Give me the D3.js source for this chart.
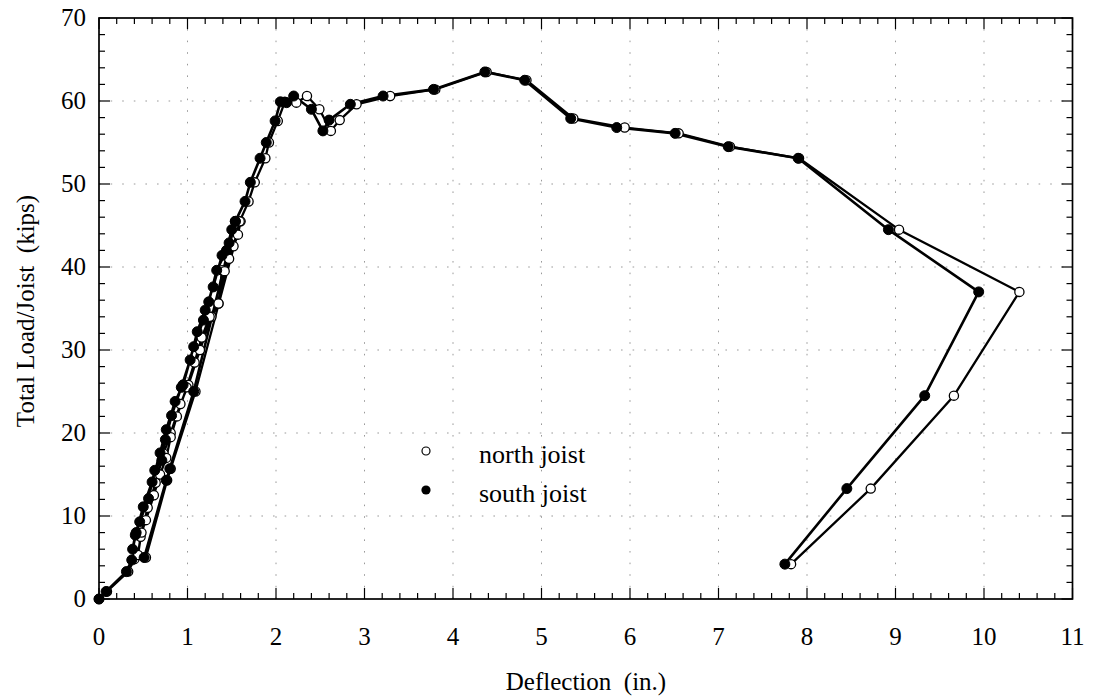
<!DOCTYPE html>
<html>
<head>
<meta charset="utf-8">
<script src="https://cdn.jsdelivr.net/npm/d3@7"></script>
<style>
  html, body { margin: 0; padding: 0; background: #fff; }
  svg { display: block; font-family: "Liberation Serif", "Times New Roman", serif; }
</style>
</head>
<body>
<svg id="chart" width="1094" height="700"></svg>
<script>
// ---- data (deflection in., total load/joist kips) ----
const northJoist = [
  [0,0],[0.09,0.9],[0.33,3.3],[0.40,4.8],[0.53,5.0],[0.77,14.3],[0.81,15.7],[1.09,25.0],[1.60,45.5],
  [1.57,43.9],[1.47,41.0],[1.39,39.6],[1.35,35.6],[1.27,34.0],[1.14,30.0],[1.01,25.8],[0.92,23.5],
  [0.81,20.0],[0.73,17.5],[0.64,14.0],[0.55,11.0],[0.47,7.5],[0.44,5.3],
  [0.48,8.0],[0.53,9.5],[0.62,12.5],[0.69,15.0],[0.76,17.0],[0.81,19.5],[0.88,22.0],[0.99,25.5],
  [1.08,28.5],[1.16,31.5],[1.25,34.0],[1.35,35.6],[1.42,39.5],[1.52,42.5],[1.59,45.5],
  [1.69,47.9],[1.76,50.2],[1.88,53.1],[1.92,55.0],[2.02,57.6],[2.10,59.9],[2.23,59.8],[2.35,60.6],
  [2.49,59.0],[2.62,56.4],[2.72,57.7],[2.91,59.6],[3.29,60.6],[3.80,61.4],[4.38,63.5],[4.83,62.5],
  [5.36,57.9],[5.94,56.8],[6.55,56.1],[7.13,54.5],[7.91,53.1],[9.04,44.5],[10.40,37.0],
  [9.66,24.5],[8.72,13.3],[7.82,4.2]
];
const southJoist = [
  [0,0],[0.08,0.9],[0.31,3.3],[0.37,4.7],[0.51,5.0],[0.76,14.3],[0.80,15.7],[1.07,25.0],[1.54,45.5],
  [1.50,44.5],[1.44,42.0],[1.33,39.6],[1.24,35.8],[1.18,33.6],[1.07,30.4],[0.95,25.8],[0.86,23.8],
  [0.76,20.4],[0.69,17.6],[0.60,14.1],[0.50,11.1],[0.41,7.7],[0.38,6.0],
  [0.42,8.0],[0.46,9.3],[0.56,12.1],[0.63,15.5],[0.71,16.7],[0.75,19.2],[0.82,22.1],[0.93,25.5],
  [1.03,28.8],[1.11,32.2],[1.20,34.8],[1.29,37.6],[1.39,41.4],[1.47,42.9],[1.54,45.5],
  [1.65,47.9],[1.71,50.2],[1.82,53.1],[1.89,55.0],[1.99,57.6],[2.05,59.9],[2.12,59.8],[2.20,60.6],
  [2.40,59.0],[2.53,56.4],[2.60,57.7],[2.84,59.6],[3.21,60.6],[3.78,61.4],[4.36,63.5],[4.81,62.5],
  [5.33,57.9],[5.85,56.8],[6.51,56.1],[7.11,54.5],[7.90,53.1],[8.92,44.5],[9.94,37.0],
  [9.33,24.5],[8.45,13.3],[7.75,4.2]
];
const xTickValues = [0,1,2,3,4,5,6,7,8,9,10,11];
const yTickValues = [0,10,20,30,40,50,60,70];
const seriesNames = ["north joist", "south joist"];
const xTitle = "Deflection  (in.)";
const yTitle = "Total Load/Joist  (kips)";

// ---- layout ----
const svg = d3.select("#chart");
const L = 99, R = 1072.5, T = 18, B = 599;
const x = d3.scaleLinear().domain([0, 11]).range([L, R]);
const y = d3.scaleLinear().domain([0, 70]).range([B, T]);

// grid (dotted)
const grid = svg.append("g").attr("stroke", "#9a9a9a").attr("stroke-width", 1).attr("stroke-dasharray", "1.6,10");
grid.selectAll("line.gx").data(xTickValues.slice(1, -1)).enter().append("line")
  .attr("x1", d => x(d)).attr("x2", d => x(d)).attr("y1", B).attr("y2", T);
grid.selectAll("line.gy").data(yTickValues.slice(1, -1)).enter().append("line")
  .attr("y1", d => y(d)).attr("y2", d => y(d)).attr("x1", L).attr("x2", R);

// ticks (inward, all four sides)
const xMinor = d3.range(0, 11.001, 0.2).map(v => +v.toFixed(1));
const yMinor = d3.range(0, 70.001, 2);
const tickG = svg.append("g").attr("stroke", "#000").attr("stroke-width", 1.2);
const isMajX = v => Math.abs(v - Math.round(v)) < 1e-6;
const isMajY = v => v % 10 === 0;
xMinor.forEach(v => {
  const len = isMajX(v) ? 11 : 6;
  tickG.append("line").attr("x1", x(v)).attr("x2", x(v)).attr("y1", B).attr("y2", B - len);
  tickG.append("line").attr("x1", x(v)).attr("x2", x(v)).attr("y1", T).attr("y2", T + len);
});
yMinor.forEach(v => {
  const len = isMajY(v) ? 11 : 6;
  tickG.append("line").attr("y1", y(v)).attr("y2", y(v)).attr("x1", L).attr("x2", L + len);
  tickG.append("line").attr("y1", y(v)).attr("y2", y(v)).attr("x1", R).attr("x2", R - len);
});

// frame
svg.append("rect").attr("x", L).attr("y", T).attr("width", R - L).attr("height", B - T)
  .attr("fill", "none").attr("stroke", "#000").attr("stroke-width", 1.7);

// tick labels
svg.append("g").selectAll("text").data(xTickValues).enter().append("text")
  .attr("x", d => x(d)).attr("y", 645).attr("text-anchor", "middle")
  .attr("font-size", 25).attr("fill", "#000").text(d => d);
svg.append("g").selectAll("text").data(yTickValues).enter().append("text")
  .attr("x", 86).attr("y", d => y(d) + 8).attr("text-anchor", "end")
  .attr("font-size", 25).attr("fill", "#000").text(d => d);

// axis titles
svg.append("text").attr("x", 586).attr("y", 690).attr("text-anchor", "middle")
  .attr("font-size", 25).attr("fill", "#000").style("white-space", "pre").text(xTitle);
svg.append("text").attr("transform", "translate(34,311) rotate(-90)").attr("text-anchor", "middle")
  .attr("font-size", 25).attr("fill", "#000").style("white-space", "pre").text(yTitle);

// lines
const line = d3.line().x(d => x(d[0])).y(d => y(d[1]));
const plot = svg.append("g");
plot.append("path").datum(northJoist).attr("d", line)
  .attr("fill", "none").attr("stroke", "#000").attr("stroke-width", 2.3).attr("stroke-linejoin", "round");
plot.append("path").datum(southJoist).attr("d", line)
  .attr("fill", "none").attr("stroke", "#000").attr("stroke-width", 2.6).attr("stroke-linejoin", "round");

// markers
plot.append("g").selectAll("circle").data(northJoist).enter().append("circle")
  .attr("cx", d => x(d[0])).attr("cy", d => y(d[1])).attr("r", 4.6)
  .attr("fill", "#fff").attr("stroke", "#000").attr("stroke-width", 1.3);
plot.append("g").selectAll("circle").data(southJoist).enter().append("circle")
  .attr("cx", d => x(d[0])).attr("cy", d => y(d[1])).attr("r", 5)
  .attr("fill", "#000").attr("stroke", "#000").attr("stroke-width", 1);

// legend
const leg = svg.append("g");
leg.append("circle").attr("cx", 426).attr("cy", 451).attr("r", 4)
  .attr("fill", "#fff").attr("stroke", "#000").attr("stroke-width", 1.2);
leg.append("circle").attr("cx", 426).attr("cy", 490).attr("r", 4.6).attr("fill", "#000");
leg.append("text").attr("x", 479).attr("y", 463).attr("font-size", 26).attr("fill", "#000").text(seriesNames[0]);
leg.append("text").attr("x", 479).attr("y", 502).attr("font-size", 26).attr("fill", "#000").text(seriesNames[1]);
</script>
</body>
</html>
